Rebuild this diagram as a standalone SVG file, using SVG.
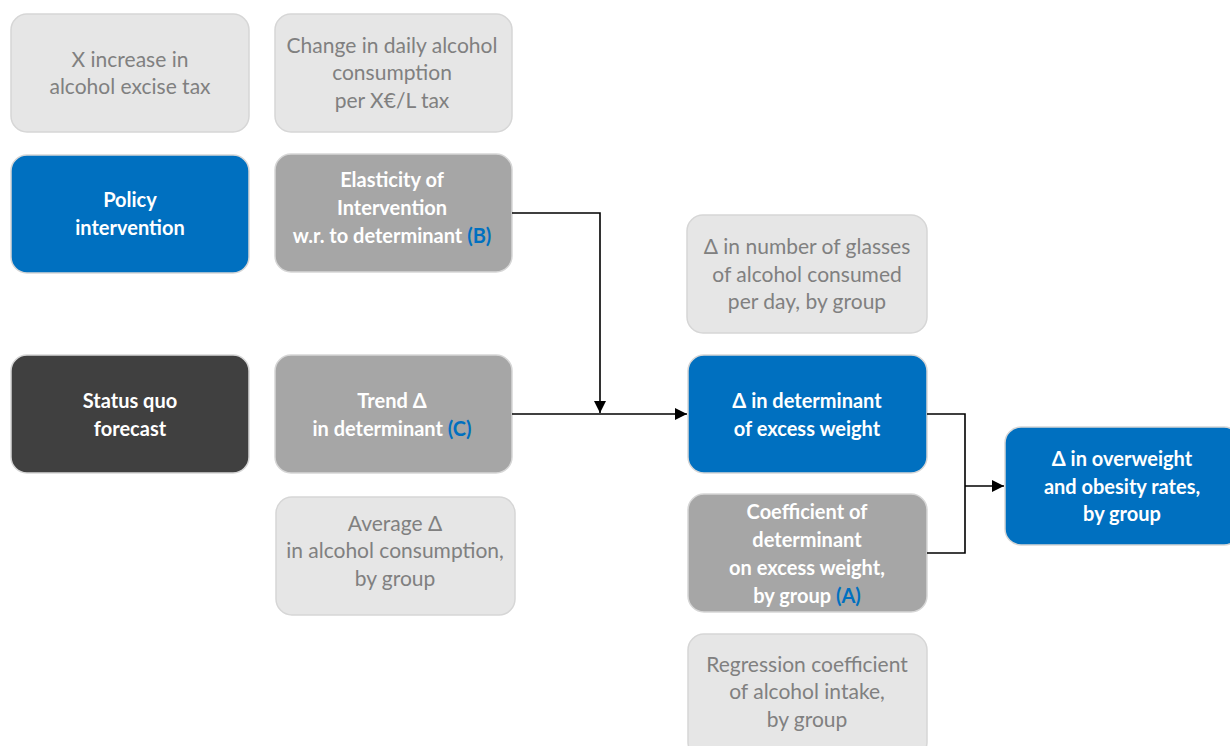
<svg xmlns="http://www.w3.org/2000/svg" width="1230" height="746" viewBox="0 0 1230 746">
<defs>
<style>
.box{stroke:#d6d6d6;stroke-width:1.5}
.light{fill:#e6e6e6}
.mid{fill:#a6a6a6}
.blue{fill:#0070c0}
.dark{fill:#404040}
text{font-family:Lato,"Open Sans","Liberation Sans",sans-serif;font-size:21px;text-anchor:middle}
.lt{fill:#808080}
.bt{fill:#ffffff;font-weight:bold;font-size:20px}
.ref{fill:#0070c0}
.conn{fill:none;stroke:#000;stroke-width:1.6}
</style>
<marker id="arr" viewBox="0 0 10 10" refX="10" refY="5" markerWidth="12" markerHeight="12" markerUnits="userSpaceOnUse" orient="auto">
<path d="M0,0 L10,5 L0,10 z" fill="#000"/>
</marker>
</defs>
<rect width="1230" height="746" fill="#fff"/>
<g id="n-tax">
<rect class="box light" x="11" y="14" width="238" height="118" rx="16"/>
<text class="lt" x="130" y="67">X increase in</text>
<text class="lt" x="130" y="94">alcohol excise tax</text>
</g>
<g id="n-change">
<rect class="box light" x="275" y="14" width="237" height="118" rx="16"/>
<text class="lt" x="392" y="53">Change in daily alcohol</text>
<text class="lt" x="392" y="80">consumption</text>
<text class="lt" x="392" y="108">per X€/L tax</text>
</g>
<g id="n-policy">
<rect class="box blue" x="11" y="155" width="238" height="118" rx="16"/>
<text class="bt" x="130" y="207">Policy</text>
<text class="bt" x="130" y="235">intervention</text>
</g>
<g id="n-elasticity">
<rect class="box mid" x="275" y="154" width="237" height="118" rx="16"/>
<text class="bt" x="392" y="187">Elasticity of</text>
<text class="bt" x="392" y="215">Intervention</text>
<text class="bt" x="392" y="243">w.r. to determinant <tspan class="ref">(B)</tspan></text>
</g>
<g id="n-statusquo">
<rect class="box dark" x="11" y="355" width="238" height="118" rx="16"/>
<text class="bt" x="130" y="408">Status quo</text>
<text class="bt" x="130" y="436">forecast</text>
</g>
<g id="n-trend">
<rect class="box mid" x="275" y="355" width="237" height="118" rx="16"/>
<text class="bt" x="392" y="408">Trend Δ</text>
<text class="bt" x="392" y="436">in determinant <tspan class="ref">(C)</tspan></text>
</g>
<g id="n-average">
<rect class="box light" x="276" y="497" width="239" height="118" rx="16"/>
<text class="lt" x="395" y="531">Average Δ</text>
<text class="lt" x="395" y="558">in alcohol consumption,</text>
<text class="lt" x="395" y="586">by group</text>
</g>
<g id="n-glasses">
<rect class="box light" x="687" y="215" width="240" height="118" rx="16"/>
<text class="lt" x="807" y="254">Δ in number of glasses</text>
<text class="lt" x="807" y="282">of alcohol consumed</text>
<text class="lt" x="807" y="309">per day, by group</text>
</g>
<g id="n-determinant">
<rect class="box blue" x="688" y="355" width="239" height="118" rx="16"/>
<text class="bt" x="807" y="408">Δ in determinant</text>
<text class="bt" x="807" y="436">of excess weight</text>
</g>
<g id="n-coefficient">
<rect class="box mid" x="688" y="494" width="239" height="118" rx="16"/>
<text class="bt" x="807" y="519">Coefficient of</text>
<text class="bt" x="807" y="547">determinant</text>
<text class="bt" x="807" y="575">on excess weight,</text>
<text class="bt" x="807" y="603">by group <tspan class="ref">(A)</tspan></text>
</g>
<g id="n-regression">
<rect class="box light" x="688" y="634" width="239" height="124" rx="16"/>
<text class="lt" x="807" y="672">Regression coefficient</text>
<text class="lt" x="807" y="699">of alcohol intake,</text>
<text class="lt" x="807" y="727">by group</text>
</g>
<g id="n-overweight">
<rect class="box blue" x="1005" y="427" width="235" height="118" rx="16"/>
<text class="bt" x="1122" y="466">Δ in overweight</text>
<text class="bt" x="1122" y="494">and obesity rates,</text>
<text class="bt" x="1122" y="521">by group</text>
</g>
<g id="connectors">
<polyline class="conn" points="512,213 600,213 600,413" marker-end="url(#arr)"/>
<polyline class="conn" points="512,414 687,414" marker-end="url(#arr)"/>
<polyline class="conn" points="927,414 965,414 965,553 927,553"/>
<polyline class="conn" points="965,486 1004,486" marker-end="url(#arr)"/>
</g>
</svg>
